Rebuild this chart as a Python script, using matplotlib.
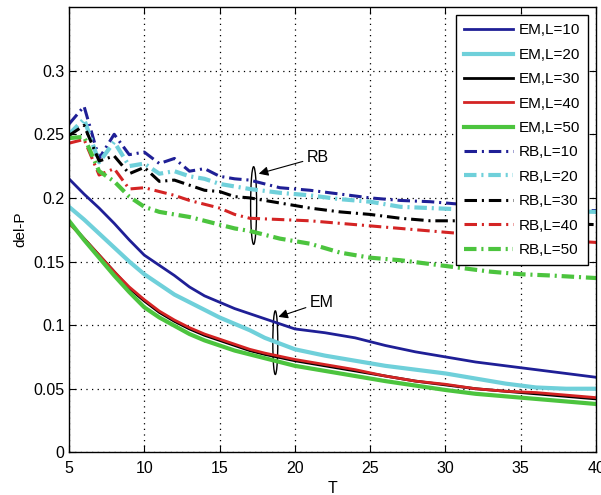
import matplotlib
matplotlib.use("Agg")
import matplotlib.pyplot as plt
from matplotlib.patches import Ellipse

plt.rcParams['font.family'] = ['Liberation Sans', 'DejaVu Sans']

# ---- data ----
T_em = [5, 6, 7, 8, 9, 10, 11, 12, 13, 14, 15, 16, 17, 18, 20, 22, 24, 26, 28, 30, 32, 34, 36, 38, 40]
em_L10 = [0.215, 0.203, 0.192, 0.180, 0.167, 0.155, 0.147, 0.139, 0.130, 0.123, 0.118, 0.113, 0.109, 0.105,
          0.097, 0.094, 0.090, 0.084, 0.079, 0.075, 0.071, 0.068, 0.065, 0.062, 0.059]
em_L20 = [0.193, 0.183, 0.172, 0.161, 0.150, 0.140, 0.132, 0.124, 0.118, 0.112, 0.106, 0.101, 0.096, 0.090,
          0.081, 0.076, 0.072, 0.068, 0.065, 0.062, 0.058, 0.054, 0.051, 0.050, 0.050]
em_L30 = [0.181, 0.168, 0.155, 0.142, 0.129, 0.119, 0.110, 0.103, 0.097, 0.092, 0.088, 0.084, 0.080, 0.077,
          0.072, 0.068, 0.064, 0.060, 0.056, 0.053, 0.050, 0.048, 0.046, 0.044, 0.042]
em_L40 = [0.180, 0.168, 0.155, 0.142, 0.130, 0.120, 0.111, 0.104, 0.098, 0.093, 0.089, 0.085, 0.081, 0.078,
          0.073, 0.069, 0.065, 0.060, 0.056, 0.0535, 0.050, 0.048, 0.047, 0.045, 0.043]
em_L50 = [0.182, 0.167, 0.153, 0.139, 0.126, 0.114, 0.106, 0.0995, 0.093, 0.088, 0.084, 0.080, 0.077, 0.074,
          0.068, 0.064, 0.060, 0.056, 0.0525, 0.049, 0.046, 0.044, 0.042, 0.040, 0.038]

T_rb = [5, 6, 7, 8, 9, 10, 11, 12, 13, 14, 15, 16, 17, 19, 21, 23, 25, 27, 29, 31, 33, 35, 37, 40]
rb_L10 = [0.258, 0.272, 0.231, 0.250, 0.234, 0.236, 0.227, 0.231, 0.221, 0.223, 0.217, 0.215, 0.214,
          0.208, 0.206, 0.203, 0.200, 0.198, 0.197, 0.195, 0.193, 0.192, 0.191, 0.190]
rb_L20 = [0.250, 0.262, 0.228, 0.244, 0.225, 0.227, 0.219, 0.221, 0.217, 0.215, 0.211, 0.209, 0.207,
          0.204, 0.202, 0.199, 0.197, 0.193, 0.192, 0.191, 0.191, 0.190, 0.190, 0.189]
rb_L30 = [0.249, 0.257, 0.229, 0.233, 0.219, 0.224, 0.213, 0.214, 0.210, 0.206, 0.205, 0.201, 0.200,
          0.196, 0.192, 0.189, 0.187, 0.184, 0.182, 0.182, 0.181, 0.180, 0.180, 0.179]
rb_L40 = [0.243, 0.246, 0.218, 0.223, 0.207, 0.208, 0.205, 0.202, 0.198, 0.195, 0.192, 0.187, 0.184,
          0.183, 0.182, 0.180, 0.178, 0.176, 0.174, 0.172, 0.170, 0.168, 0.167, 0.165]
rb_L50 = [0.247, 0.248, 0.221, 0.213, 0.201, 0.193, 0.189, 0.187, 0.185, 0.182, 0.179, 0.176, 0.174,
          0.168, 0.164, 0.157, 0.153, 0.151, 0.148, 0.145, 0.142, 0.140, 0.139, 0.137]

labels_em = ['EM,L=10', 'EM,L=20', 'EM,L=30', 'EM,L=40', 'EM,L=50']
labels_rb = ['RB,L=10', 'RB,L=20', 'RB,L=30', 'RB,L=40', 'RB,L=50']
colors = ['#1f1f96', '#6fd0da', '#000000', '#d42424', '#4cc43e']
em_lw = [2.0, 3.0, 2.0, 2.0, 3.0]
rb_lw = [2.2, 3.0, 2.2, 2.2, 3.0]

x_ticks = [5, 10, 15, 20, 25, 30, 35, 40]
y_ticks = [0, 0.05, 0.1, 0.15, 0.2, 0.25, 0.3]
y_ticklabels = ['0', '0.05', '0.1', '0.15', '0.2', '0.25', '0.3']

# ---- figure ----
fig = plt.figure(figsize=(6.01, 4.95), dpi=100)
ax = fig.add_axes([0.1148, 0.0862, 0.877, 0.8995])

em_series = [em_L10, em_L20, em_L30, em_L40, em_L50]
rb_series = [rb_L10, rb_L20, rb_L30, rb_L40, rb_L50]

for ys, c, lw, lab in zip(em_series, colors, em_lw, labels_em):
    ax.plot(T_em, ys, color=c, lw=lw, label=lab, solid_joinstyle='round')
for ys, c, lw, lab in zip(rb_series, colors, rb_lw, labels_rb):
    ax.plot(T_rb, ys, color=c, lw=lw, label=lab,
            dashes=(9.0 / lw, 3.5 / lw, 1.5 / lw, 3.5 / lw))

ax.set_xlim(5, 40)
ax.set_ylim(0, 0.35)
ax.set_xticks(x_ticks)
ax.set_yticks(y_ticks)
ax.set_yticklabels(y_ticklabels)
ax.tick_params(direction='in', top=True, right=True, labelsize=11.5, length=5, width=0.8)
ax.tick_params(axis='x', pad=6)
ax.grid(True, color='black', linestyle=(0, (1, 3.5)), linewidth=0.9)
for s in ax.spines.values():
    s.set_linewidth(1.0)

ax.set_xlabel('T', fontsize=11.5, labelpad=4)
ax.set_ylabel('del-P', fontsize=11, labelpad=4)

leg = ax.legend(loc='upper right', bbox_to_anchor=(0.985, 0.982), borderaxespad=0,
                fontsize=11, fancybox=False, framealpha=1, edgecolor='black',
                handlelength=3.2, handletextpad=0.33, labelspacing=0.68,
                borderpad=0.55)
leg.get_frame().set_linewidth(1.0)

# annotations: ellipses with arrows
ax.add_patch(Ellipse((17.26, 0.194), 0.4, 0.061, fill=False, edgecolor='black', lw=1.0))
ax.add_patch(Ellipse((18.7, 0.0862), 0.33, 0.05, fill=False, edgecolor='black', lw=1.0))
ax.annotate('RB', xy=(17.6, 0.219), xytext=(20.8, 0.232), fontsize=11.5,
            va='center', ha='left',
            arrowprops=dict(arrowstyle='-|>', color='black', lw=0.8,
                            mutation_scale=14, shrinkA=1, shrinkB=0))
ax.annotate('EM', xy=(18.9, 0.1065), xytext=(21.0, 0.118), fontsize=11.5,
            va='center', ha='left',
            arrowprops=dict(arrowstyle='-|>', color='black', lw=0.8,
                            mutation_scale=14, shrinkA=1, shrinkB=0))

fig.savefig('out.png', dpi=100)
